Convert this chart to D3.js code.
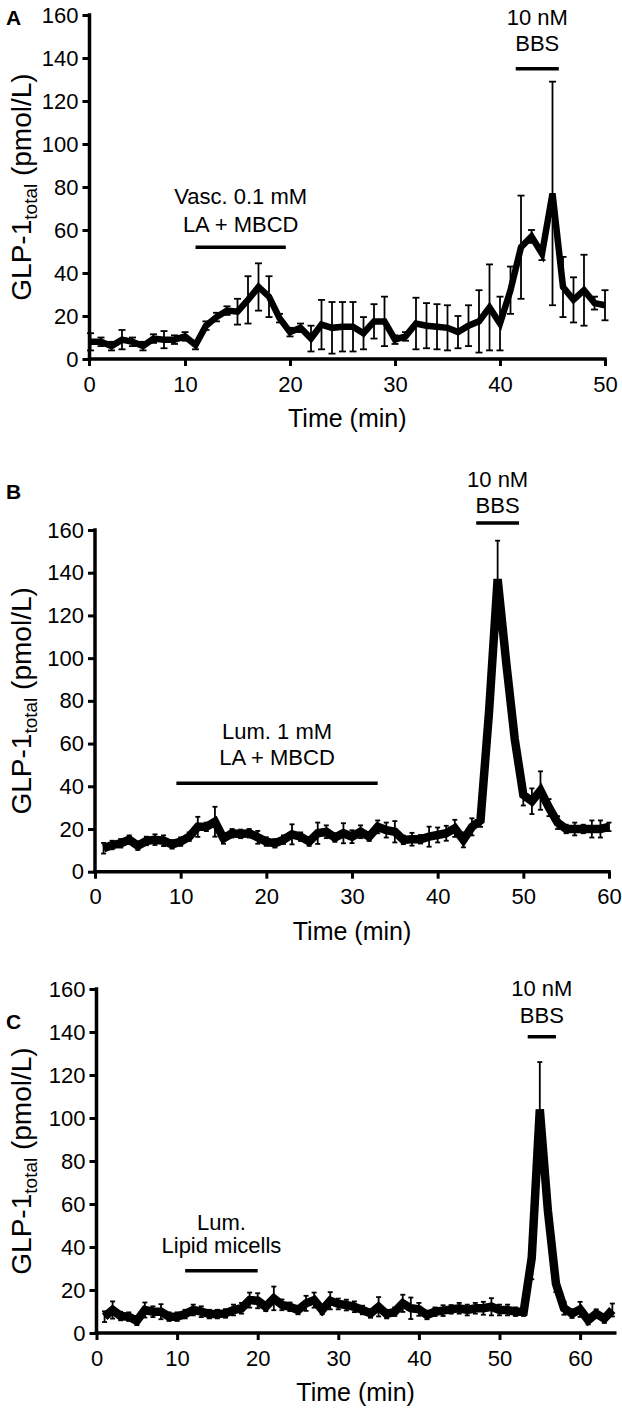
<!DOCTYPE html>
<html><head><meta charset="utf-8">
<script src="https://cdn.jsdelivr.net/npm/d3@7"></script>
<style>
body{margin:0;background:#fff}
svg{display:block}
text{font-family:"Liberation Sans",Arial,Helvetica,sans-serif;fill:#000}
</style>
</head><body>
<svg id="c" width="622" height="1409"></svg>
<script>
// ---------------- DATA ----------------
const yTicks = [0, 20, 40, 60, 80, 100, 120, 140, 160];

// Panel A: vascular 0.1 mM LA + MBCD
const timeA = [1,2,3,4,5,6,7,8,9,10,11,12,13,14,15,16,17,18,19,20,21,22,23,24,25,26,27,28,29,30,31,32,33,34,35,36,37,38,39,40,41,42,43,44,45,46,47,48,49,50];
const glpA  = [8,8,6,9,8,6,9.5,9,9,10.5, 6.5,15.5,19.5,22.5,22,27.5,33.5,29,19,12.5, 14.5,9.5,16,14.5,15,15,12,17.5,17.5,9, 10.5,16.5,15.5,15,14.5,12.5,15.5,17.5,24,16.5, 32,52,57,49,77,33.5,27.5,32,26,25];
const semA  = [4,2,2,4.5,2,2,2,4,2,2, 2,2,2,2,6,11,11,9.5,2,2, 2,6,11.5,12,11.5,11.5,7.5,8,11.5,2, 2,12,10.5,10.5,10.5,7.5,9.5,14.5,20,12.5, 11,24,3,3,52,14,10.5,16.5,3,7];
const xTicksA = [0,10,20,30,40,50];
const annotA = [
  {lines:["Vasc. 0.1 mM","LA + MBCD"], from:11, to:19.6, textY:[75.8,62.8], barY:52},
  {lines:["10 nM","BBS"], from:41.5, to:45.6, textY:[159,146.8], barY:135}
];

// Panel B: luminal 1 mM LA + MBCD
const timeB = [1,2,3,4,5,6,7,8,9,10,11,12,13,14,15,16,17,18,19,20,21,22,23,24,25,26,27,28,29,30,31,32,33,34,35,36,37,38,39,40,41,42,43,44,45,46,47,48,49,50,51,52,53,54,55,56,57,58,59,60];
const glpB  = [11,12.5,13.3,15,12.2,14.4,15,14.5,12.8,14.1, 16.4,21,21,23.4,15.6,18,17.7,18,16.1,14.1, 13.3,15,17.5,16.4,14.1,18,18.7,16,18,16.4, 18.7,16.4,21,19.5,18.7,14.9,15.2,15.2,16.4,17.2, 18,20.3,14.9,21,24,75,137,98,62,36, 33,38,30,23,20,20,20,20,20,21];
const semB  = [2.5,2,2,2,2,2,2.5,2.5,2,2, 2,4.7,2,7,2.5,2,2,2,3,2, 2,2,4.7,2,2,5,3,2,4.7,3, 3,2,3,3.5,5,2,3,2,4.7,3.5, 3.5,4,3.5,4,3,4,18,4,4,5, 6,9,4,3,2,3,2,4,4,2];
const xTicksB = [0,10,20,30,40,50,60];
const annotB = [
  {lines:["Lum. 1 mM","LA + MBCD"], from:9.5, to:33, textY:[65.9,53.7], barY:41.4},
  {lines:["10 nM","BBS"], from:44.5, to:49.5, textY:[184,171.8], barY:163.3}
];

// Panel C: luminal lipid micelles
const timeC = [1,2,3,4,5,6,7,8,9,10,11,12,13,14,15,16,17,18,19,20,21,22,23,24,25,26,27,28,29,30,31,32,33,34,35,36,37,38,39,40,41,42,43,44,45,46,47,48,49,50,51,52,53,54,55,56,57,58,59,60,61,62,63,64];
const glpC  = [7.6,10.7,7.9,7.6,5.7,10.7,9.9,9.9,7.6,7.6, 8.8,10.7,9.9,8.8,8.8,9.1,10.7,11.5,15.3,15, 12.2,16.1,13.1,12.2,10.7,13.8,15.3,10.7,15,13.5, 13,12.2,10.7,9.1,12.2,8.8,9.9,13.8,11.5,11, 8.4,9.9,10.4,11,11.5,10.7,11.5,11.5,12.2,10.7, 10.7,9.9,9.9,35,104,57,23,11.5,9,11, 6,9,6.7,10.7];
const semC  = [2.5,4,2,2,2,3.5,2.5,3.5,2,2, 2,2.5,2.5,2,2,2,2.5,2.5,3.5,3.5, 2,5.5,2.5,2,2,3.5,3.5,2,4,2.5, 2.5,2.5,2,2,4.5,2,2,4,5,3, 2,2,2.5,2,2.5,2.5,2.5,3,4,2.5, 2.5,2,2,10,22,4,4,3,2,3.5, 2,2,2,3];
const xTicksC = [0,10,20,30,40,50,60];
const annotC = [
  {lines:["Lum.","Lipid micells"], from:11, to:20, textY:[51.8,40.9], barY:29},
  {lines:["10 nM","BBS"], from:53.5, to:57, textY:[160.3,147.9], barY:137.8}
];

// ---------------- LAYOUT ----------------
const panels = [
  {label:"A", labelPos:[6,25], t:timeA, v:glpA, e:semA, xTicks:xTicksA, annot:annotA,
   xDomain:[0,50], xRange:[80,605], xEnd:50, yAxisX:89.5, yRange:[359,15], lineW:6.5, cap:7, zeroAtAxis:true},
  {label:"B", labelPos:[6,499], t:timeB, v:glpB, e:semB, xTicks:xTicksB, annot:annotB,
   xDomain:[0,60], xRange:[95,609], xEnd:60, yAxisX:95, yRange:[871.7,530], lineW:8.5, cap:5, zeroAtAxis:false},
  {label:"C", labelPos:[6,1029], t:timeC, v:glpC, e:semC, xTicks:xTicksC, annot:annotC,
   xDomain:[0,60], xRange:[96.5,580.1], xEnd:64.3, yAxisX:96.5, yRange:[1333,989], lineW:8.5, cap:5, zeroAtAxis:false}
];

const svg = d3.select("#c");
const FS_TICK = 22, FS_TITLE = 25, FS_YT = 28, FS_ANN = 22;

panels.forEach(p => {
  const x = d3.scaleLinear().domain(p.xDomain).range(p.xRange);
  const y = d3.scaleLinear().domain([0,160]).range(p.yRange);
  const g = svg.append("g");

  // panel letter
  g.append("text").attr("x", p.labelPos[0]).attr("y", p.labelPos[1])
    .attr("font-size", 21).attr("font-weight", "bold").text(p.label);

  // y axis
  const ya = g.append("g").attr("transform", `translate(${p.yAxisX},0)`)
    .call(d3.axisLeft(y).tickValues(yTicks).tickSize(7).tickSizeOuter(0).tickPadding(4));
  ya.select(".domain").remove();
  ya.selectAll(".tick line").attr("stroke","#000").attr("stroke-width",3);
  ya.selectAll(".tick text").attr("font-size",FS_TICK).attr("font-family",null);

  // x axis
  const xa = g.append("g").attr("transform", `translate(0,${y(0)})`)
    .call(d3.axisBottom(x).tickValues(p.xTicks).tickSize(7).tickSizeOuter(0).tickPadding(10));
  xa.select(".domain").remove();
  xa.selectAll(".tick line").attr("stroke","#000").attr("stroke-width",3);
  xa.selectAll(".tick text").attr("font-size",FS_TICK).attr("font-family",null);
  if (p.zeroAtAxis) {
    xa.selectAll(".tick").filter(d => d === 0).attr("transform", `translate(${p.yAxisX},0)`);
  }

  // axis lines
  g.append("line").attr("x1", p.yAxisX).attr("x2", p.yAxisX)
    .attr("y1", y(0)).attr("y2", y(160)).attr("stroke","#000").attr("stroke-width",3.5)
    .attr("stroke-linecap","square");
  g.append("line").attr("x1", p.yAxisX).attr("x2", x(p.xEnd))
    .attr("y1", y(0)).attr("y2", y(0)).attr("stroke","#000").attr("stroke-width",3.5)
    .attr("stroke-linecap","square");

  // axis titles
  const x0 = p.yAxisX, x1 = x(p.xEnd);
  g.append("text").attr("x", (x0+x1)/2).attr("y", y(0)+68)
    .attr("text-anchor","middle").attr("font-size",FS_TITLE).text("Time (min)");
  const yc = (y(0)+y(160))/2;
  const yt = g.append("text").attr("transform", `translate(31,${yc}) rotate(-90)`)
    .attr("text-anchor","middle").attr("font-size",FS_YT);
  yt.append("tspan").text("GLP-1");
  yt.append("tspan").attr("font-size",19).attr("dy",6).text("total");
  yt.append("tspan").attr("dy",-6).text(" (pmol/L)");

  // error bars
  const idx = d3.range(p.t.length);
  const eg = g.append("g").attr("stroke","#000").attr("stroke-width",1.8);
  idx.forEach(i => {
    const cx = x(p.t[i]);
    const yTop = y(p.v[i] + p.e[i]), yBot = y(Math.max(0, p.v[i] - p.e[i]));
    eg.append("line").attr("x1",cx).attr("x2",cx).attr("y1",yTop).attr("y2",yBot);
    eg.append("line").attr("x1",cx-p.cap/2).attr("x2",cx+p.cap/2).attr("y1",yTop).attr("y2",yTop);
    eg.append("line").attr("x1",cx-p.cap/2).attr("x2",cx+p.cap/2).attr("y1",yBot).attr("y2",yBot);
  });

  // mean line
  const line = d3.line().x(i => x(p.t[i])).y(i => y(p.v[i]));
  g.append("path").attr("d", line(idx)).attr("fill","none").attr("stroke","#000")
    .attr("stroke-width",p.lineW).attr("stroke-linejoin","miter").attr("stroke-miterlimit",3);

  // annotations
  p.annot.forEach(a => {
    const cx = (x(a.from)+x(a.to))/2;
    a.lines.forEach((s,k) => {
      g.append("text").attr("x",cx).attr("y",y(a.textY[k])).attr("dy","0.36em")
        .attr("text-anchor","middle").attr("font-size",FS_ANN).text(s);
    });
    g.append("line").attr("x1",x(a.from)).attr("x2",x(a.to))
      .attr("y1",y(a.barY)).attr("y2",y(a.barY)).attr("stroke","#000").attr("stroke-width",3.5);
  });
});
</script>
</body></html>
